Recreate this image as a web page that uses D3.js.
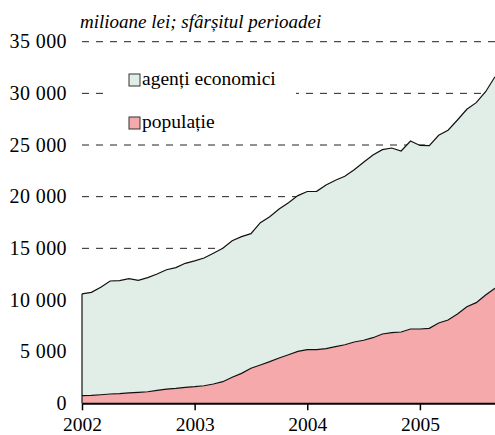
<!DOCTYPE html>
<html>
<head>
<meta charset="utf-8">
<script src="https://cdn.jsdelivr.net/npm/d3@7"></script>
</head>
<body style="margin:0">
<svg id="chart" width="495" height="435"></svg>
<script>
// monthly values, Jan 2002 .. Sep 2005 (milioane lei, end of period)
var populatie = [740, 770, 830, 900, 930, 1000, 1060, 1120, 1260, 1380, 1450, 1550,
  1610, 1700, 1870, 2090, 2520, 2900, 3390, 3710, 4030, 4390, 4700, 5030,
  5190, 5190, 5290, 5480, 5670, 5930, 6100, 6350, 6710, 6840, 6900, 7190,
  7190, 7260, 7770, 8060, 8640, 9350, 9740, 10480, 11130];
var agenti = [9860, 9970, 10400, 10940, 10940, 11060, 10840, 11040, 11260, 11550, 11680, 12000,
  12170, 12360, 12650, 12910, 13220, 13230, 13030, 13770, 14030, 14420, 14720, 15070,
  15310, 15330, 15840, 16110, 16300, 16680, 17230, 17690, 17840, 17870, 17520, 18200,
  17770, 17680, 18170, 18370, 18780, 19110, 19360, 19680, 20480];
var years = ["2002", "2003", "2004", "2005"];
var yTicks = [0, 5000, 10000, 15000, 20000, 25000, 30000, 35000];
var seriesNames = ["populație", "agenți economici"];
var colors = ["#f6a9ab", "#e1eee7"];

var font = "'Liberation Serif'";

var rows = populatie.map(function (p, i) { return {i: i, populatie: p, agenti: agenti[i]}; });

var margin = {top: 41.7, left: 82, bottom: 403.3, right: 495};

var svg = d3.select("#chart");

var x = d3.scaleLinear()
  .domain([0, rows.length - 1])
  .range([margin.left, margin.right]);

var y = d3.scaleLinear()
  .domain([0, 35000])
  .range([margin.bottom, margin.top]);

var fmt = function (d) { return d3.format(",")(d).replace(/,/g, " "); };

// gridlines
svg.append("g").selectAll("line")
  .data(yTicks.filter(function (d) { return d > 0; }))
  .enter().append("line")
    .attr("x1", margin.left).attr("x2", margin.right)
    .attr("y1", function (d) { return y(d); })
    .attr("y2", function (d) { return y(d); })
    .attr("stroke", "#222")
    .attr("stroke-width", 1)
    .attr("stroke-dasharray", "7,7");

// y labels
svg.append("g").selectAll("text")
  .data(yTicks)
  .enter().append("text")
    .attr("x", 67)
    .attr("y", function (d) { return y(d); })
    .attr("dy", "0.33em")
    .attr("text-anchor", "end")
    .attr("font-size", 20)
    .attr("letter-spacing", 0.4)
    .style("font-family", font)
    .text(fmt);

// title
svg.append("text")
  .attr("x", 80).attr("y", 28)
  .attr("font-size", 19)
  .attr("font-style", "italic")
  .style("font-family", font)
  .text("milioane lei; sfârșitul perioadei");

// stacked areas
var stack = d3.stack().keys(["populatie", "agenti"]);
var layers = stack(rows);

var area = d3.area()
  .x(function (d) { return x(d.data.i); })
  .y0(function (d) { return y(d[0]); })
  .y1(function (d) { return y(d[1]); });

var topLine = d3.line()
  .x(function (d) { return x(d.data.i); })
  .y(function (d) { return y(d[1]); });

svg.append("g").selectAll("path")
  .data(layers)
  .enter().append("path")
    .attr("d", area)
    .attr("fill", function (d, i) { return colors[i]; });

svg.append("g").selectAll("path")
  .data(layers)
  .enter().append("path")
    .attr("d", topLine)
    .attr("fill", "none")
    .attr("stroke", "#111")
    .attr("stroke-width", 1.2);

// left edge of the area
svg.append("line")
  .attr("x1", x(0)).attr("x2", x(0))
  .attr("y1", y(0)).attr("y2", y(layers[1][0][1]))
  .attr("stroke", "#111")
  .attr("stroke-width", 1.2);

// legend with white backing
svg.append("rect")
  .attr("x", 108).attr("y", 58)
  .attr("width", 188).attr("height", 80)
  .attr("fill", "#fff");

var legend = svg.append("g").selectAll("g")
  .data([1, 0])
  .enter().append("g")
    .attr("transform", function (d, i) { return "translate(129," + (74 + i * 43) + ")"; });

legend.append("rect")
  .attr("width", 11).attr("height", 12)
  .attr("fill", function (d) { return colors[d]; })
  .attr("stroke", "#333")
  .attr("stroke-width", 1);

legend.append("text")
  .attr("x", 13).attr("y", 11)
  .attr("font-size", 19.5)
  .style("font-family", font)
  .text(function (d) { return seriesNames[d]; });

// x axis
var xAxis = d3.axisBottom(x)
  .tickValues([0, 12, 24, 36])
  .tickFormat(function (d) { return years[d / 12]; })
  .tickSize(7)
  .tickSizeOuter(0);

var gx = svg.append("g")
  .attr("transform", "translate(0," + margin.bottom + ")")
  .call(xAxis);

gx.select(".domain").attr("stroke", "#000").attr("stroke-width", 2);
gx.selectAll(".tick line").attr("stroke", "#000").attr("stroke-width", 1.5);
gx.selectAll(".tick text")
  .attr("y", 14)
  .attr("dy", "0.71em")
  .attr("fill", "#000")
  .attr("font-size", 19.5)
  .style("font-family", font);
</script>
</body>
</html>
